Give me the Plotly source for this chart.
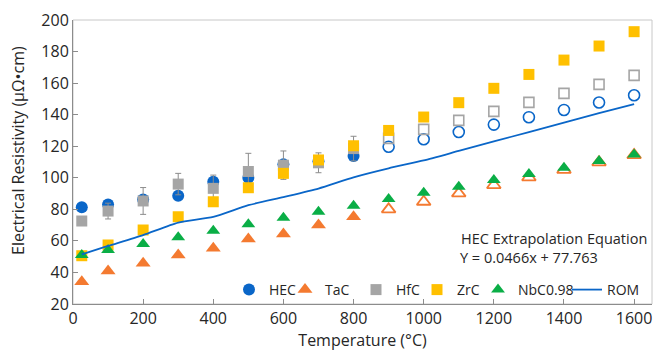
import plotly.graph_objects as go

# ---------------- data ----------------
temp_meas = [25, 100, 200, 300, 400, 500, 600, 700, 800]
temp_ext = [900, 1000, 1100, 1200, 1300, 1400, 1500, 1600]
temp_all = temp_meas + temp_ext

hec = [81.3, 83.0, 86.3, 88.6, 97.5, 100.0, 108.5, 110.5, 113.8]
hec_ext = [119.7, 124.4, 129.0, 133.7, 138.4, 143.0, 147.7, 152.3]

tac = [34.1, 40.9, 45.8, 51.0, 55.3, 61.2, 64.4, 70.0, 75.3]
tac_ext = [80.0, 84.8, 90.1, 95.4, 100.3, 105.0, 109.8, 114.4]

hfc = [72.6, 78.9, 85.3, 96.0, 93.3, 104.0, 108.0, 109.5, 118.5]
hfc_err = [0, 5.0, 8.5, 6.8, 8.4, 11.5, 9.0, 6.3, 7.8]
hfc_ext = [125.0, 130.7, 136.4, 142.1, 147.8, 153.5, 159.2, 164.9]

zrc = [50.6, 57.4, 66.9, 75.3, 84.8, 93.7, 102.8, 111.3, 120.3,
       130.0, 138.5, 147.6, 156.7, 165.5, 174.6, 183.5, 192.6]

nbc = [51.0, 54.2, 58.0, 62.3, 66.5, 70.5, 74.7, 78.5, 82.3,
       86.5, 90.5, 94.3, 98.6, 102.4, 106.4, 110.6, 114.8]

rom = [51.5, 56.8, 63.7, 71.6, 75.2, 82.6, 87.8, 93.2, 100.3,
       106.0, 111.0, 117.0, 123.0, 129.0, 135.0, 141.0, 146.7]

x_ticks = [0, 200, 400, 600, 800, 1000, 1200, 1400, 1600]
y_ticks = [20, 40, 60, 80, 100, 120, 140, 160, 180, 200]

eq_title = "HEC Extrapolation Equation"
eq_text = "Y = 0.0466x + 77.763"

# ---------------- style ----------------
BLUE = "#0A66C8"
ORANGE = "#F47A30"
GRAY = "#A5A5A5"
YELLOW = "#FFC000"
GREEN = "#0AAE46"
FONT = "Open Sans"
TXT = "#262626"

fig = go.Figure()

fig.add_trace(go.Scatter(x=temp_meas, y=hec, mode="markers", name="HEC",
                         marker=dict(symbol="circle", size=12, color=BLUE),
                         legend="legend"))
fig.add_trace(go.Scatter(x=temp_ext, y=hec_ext, mode="markers", showlegend=False,
                         marker=dict(symbol="circle-open", size=11, color=BLUE,
                                     line=dict(width=1.6, color=BLUE))))
fig.add_trace(go.Scatter(x=temp_meas, y=tac, mode="markers", name="TaC",
                         marker=dict(symbol="triangle-up", size=13, color=ORANGE),
                         legend="legend2"))
fig.add_trace(go.Scatter(x=temp_ext, y=tac_ext, mode="markers", showlegend=False,
                         marker=dict(symbol="triangle-up-open", size=12, color=ORANGE,
                                     line=dict(width=1.8, color=ORANGE))))
fig.add_trace(go.Scatter(x=temp_meas, y=hfc, mode="markers", name="HfC",
                         marker=dict(symbol="square", size=11, color=GRAY),
                         error_y=dict(type="data", array=hfc_err, visible=True,
                                      color="#8C8C8C", thickness=1, width=3),
                         legend="legend3"))
fig.add_trace(go.Scatter(x=temp_ext, y=hfc_ext, mode="markers", showlegend=False,
                         marker=dict(symbol="square-open", size=10, color=GRAY,
                                     line=dict(width=1.6, color=GRAY))))
fig.add_trace(go.Scatter(x=temp_all, y=zrc, mode="markers", name="ZrC",
                         marker=dict(symbol="square", size=11, color=YELLOW),
                         legend="legend4"))
fig.add_trace(go.Scatter(x=temp_all, y=nbc, mode="markers", name="NbC0.98",
                         marker=dict(symbol="triangle-up", size=12, color=GREEN),
                         legend="legend5"))
fig.add_trace(go.Scatter(x=temp_all, y=rom, mode="lines", name="ROM",
                         line=dict(color=BLUE, width=1.8, shape="spline", smoothing=0.6),
                         legend="legend6"))

L, R, T, B = 73, 4, 20, 47
W, H = 656, 351
pw = W - L - R
ph = H - T - B

def xfrac(px):
    return (px - L) / pw

def yfrac(py):
    return (H - B - py) / ph

leg_common = dict(orientation="h", yanchor="middle", y=yfrac(290), xanchor="left",
                  bgcolor="rgba(0,0,0,0)", font=dict(family=FONT, size=14, color=TXT),
                  itemwidth=30, borderwidth=0)
text_starts = [266, 322, 393, 454, 515, 604]
legend_names = ["legend", "legend2", "legend3", "legend4", "legend5", "legend6"]
layout_legends = {}
for nm, ts in zip(legend_names, text_starts):
    layout_legends[nm] = dict(leg_common, x=xfrac(ts - 37))

axis_common = dict(showgrid=False, zeroline=False, ticks="inside", ticklen=5,
                   tickcolor="#8C8C8C", showline=True, linecolor="#8C8C8C", linewidth=1,
                   tickfont=dict(family=FONT, size=16, color=TXT))

fig.update_layout(
    width=W, height=H,
    margin=dict(l=L, r=R, t=T, b=B, pad=0),
    paper_bgcolor="white", plot_bgcolor="white",
    xaxis=dict(axis_common, range=[0, 1651], tickvals=x_ticks,
               title=dict(text="Temperature (°C)", font=dict(family=FONT, size=16, color=TXT),
                          standoff=7)),
    yaxis=dict(axis_common, range=[20, 200], tickvals=y_ticks),
    **layout_legends,
)

# plot-area frame (light)
fig.add_shape(type="rect", xref="paper", yref="paper", x0=0, x1=1, y0=0, y1=1,
              line=dict(color="#C8C8C8", width=1), layer="below")

fig.add_annotation(text="Electrical Resistivity (μΩ•cm)", xref="paper", yref="paper",
                   x=xfrac(18), y=yfrac(151), textangle=-90, showarrow=False,
                   xanchor="center", yanchor="middle",
                   font=dict(family=FONT, size=16, color=TXT))
fig.add_annotation(text=eq_title, xref="paper", yref="paper",
                   x=xfrac(459), y=yfrac(238), showarrow=False,
                   xanchor="left", yanchor="middle",
                   font=dict(family=FONT, size=14.5, color=TXT))
fig.add_annotation(text=eq_text, xref="paper", yref="paper",
                   x=xfrac(458), y=yfrac(257), showarrow=False,
                   xanchor="left", yanchor="middle",
                   font=dict(family=FONT, size=14.5, color=TXT))

fig.write_html("out.html")
